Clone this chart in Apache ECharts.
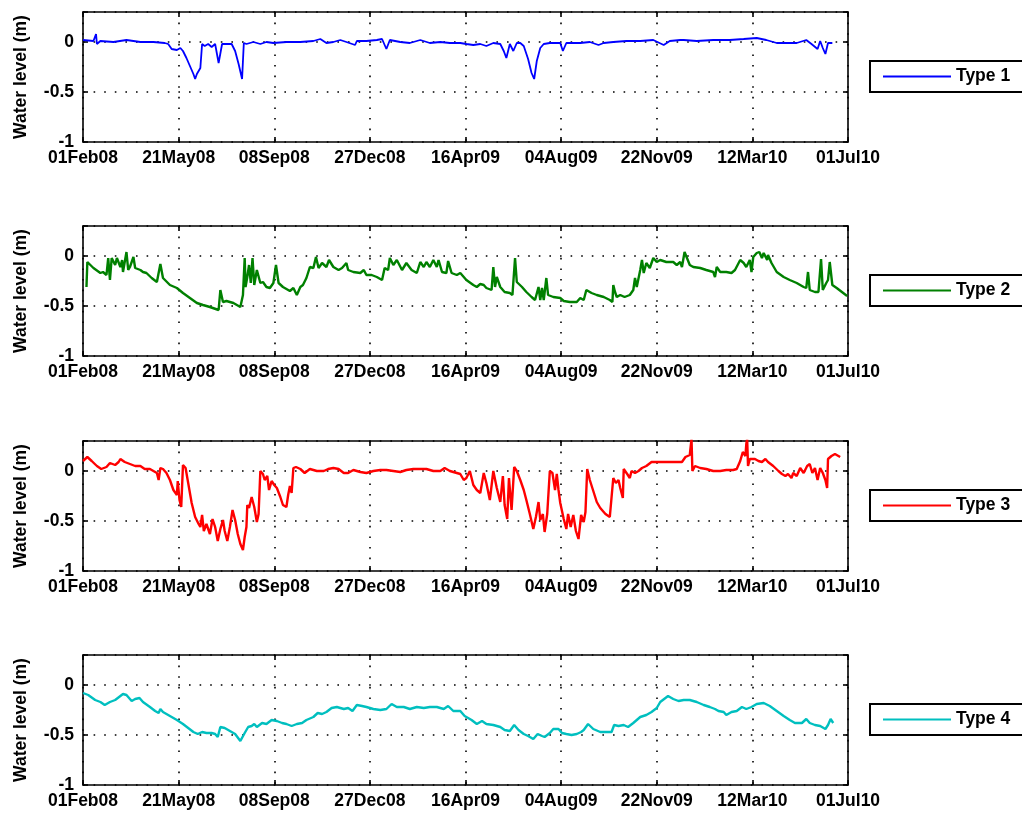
<!DOCTYPE html>
<html><head><meta charset="utf-8">
<script src="https://cdn.jsdelivr.net/npm/echarts@6/dist/echarts.min.js"></script>
<style>html,body{margin:0;padding:0;background:#fff}#c{width:1022px;height:815px}</style>
</head><body><div id="c"></div>
<script>
// x values are days since 01Feb08
const tickLabels = ['01Feb08','21May08','08Sep08','27Dec08','16Apr09','04Aug09','22Nov09','12Mar10','01Jul10'];
const seriesNames = ['Type 1','Type 2','Type 3','Type 4'];
const yTickValues = [-1, -0.5, 0];

const type1Days = [0,12,15,16,20,35,50,66,81,94,98,102,108,112,115,119,123,127,129,131,133,135,137,140,144,148,152,156,160,165,171,175,179,183,185,188,196,204,211,219,234,250,265,273,280,288,296,303,313,315,326,338,
 344,349,353,365,376,388,399,411,422,434,441,449,457,464,472,480,484,487,491,495,499,503,507,512,516,519,522,526,530,537,549,552,556,572,583,593,599,610,625,641,656,668,675,687,
 691,706,725,744,760,775,786,798,809,821,832,838,845,848,851,854,857,859,862];
const type1Level = [0.02,0.01,0.08,-0.02,0.01,0.00,0.02,0.00,0.00,-0.01,-0.02,-0.07,-0.08,-0.06,-0.09,-0.16,-0.24,-0.32,-0.37,-0.32,-0.31,-0.26,-0.02,-0.04,-0.02,-0.05,-0.02,-0.21,-0.02,-0.02,-0.02,-0.09,-0.22,-0.37,-0.01,-0.02,0.00,-0.02,0.00,-0.01,0.00,0.00,0.01,0.03,-0.01,0.00,0.02,0.00,-0.03,0.01,0.01,0.02,
 0.03,-0.07,0.02,0.00,-0.01,0.02,-0.01,0.00,-0.01,-0.01,-0.02,-0.03,-0.02,-0.04,-0.01,-0.02,-0.09,-0.16,-0.02,-0.09,-0.01,-0.01,-0.04,-0.17,-0.31,-0.37,-0.19,-0.06,-0.02,-0.01,-0.01,-0.09,-0.01,-0.01,0.00,-0.03,-0.01,0.00,0.01,0.01,0.02,-0.03,0.01,0.02,
 0.02,0.01,0.02,0.02,0.03,0.04,0.02,-0.01,-0.01,-0.01,0.02,-0.02,-0.07,0.01,-0.06,-0.12,-0.01,0.01,-0.01];

const type2Days = [4,5,12,20,23,27,29,31,33,37, 39,43,45,46,50,52,54,58,60,66, 69,73,79,85,87,89,92,100,108,115, 123,131,138,146,156,158,161,165,173,181, 183,184,186,187,189,191,193,195,197,200, 204,207,211,215,219,222,225,230,238,242, 246,250,253,257,261,265,268,271,275,280, 283,288,294,298,303,305,311,319,323,326, 332,338,344,347,351,353,357,361,367,372, 378,384,388,392,395,399,403,407,409,413, 418,420,424,430,
 434,441,449,453,457,461,464,470,472,474, 476,480,485,491,494,497,499,505,510,516, 520,522,524,526,528,530,533,535,541,549, 553,560,568,572,576,579,585,591,599,606, 609,610,612,614,618,623,629,633,635,637, 641,643,645,648,652,656,660,664,671,679, 683,687,689,692,698,702,710,717,725,727, 729,733,740,746,750,752,756,760,763,767, 769,771,775,778,781,783,787,788,792,798, 806,813,821,829,832,834,836,842,846,849, 851,855,857,859,862,867,873,879];
const type2Level = [-0.31,-0.06,-0.12,-0.17,-0.16,-0.19,-0.02,-0.24,-0.02,-0.09, -0.02,-0.11,-0.04,-0.16,0.04,-0.14,-0.11,-0.01,-0.12,-0.14, -0.16,-0.17,-0.22,-0.26,-0.27,-0.08,-0.22,-0.29,-0.32,-0.37, -0.42,-0.47,-0.49,-0.51,-0.54,-0.34,-0.46,-0.45,-0.47,-0.51, -0.53,-0.39,-0.02,-0.31,-0.21,-0.09,-0.27,-0.02,-0.29,-0.14, -0.27,-0.26,-0.31,-0.32,-0.27,-0.09,-0.27,-0.31,-0.35,-0.32, -0.39,-0.31,-0.29,-0.22,-0.11,-0.12,-0.01,-0.12,-0.07,-0.11, -0.04,-0.11,-0.14,-0.12,-0.07,-0.14,-0.16,-0.17,-0.14,-0.19, -0.19,-0.21,-0.24,-0.12,-0.14,-0.02,-0.09,-0.04,-0.14,-0.07, -0.14,-0.17,-0.06,-0.11,-0.06,-0.11,-0.04,-0.11,-0.04,-0.16, -0.17,-0.05,-0.17,-0.19,
 -0.17,-0.24,-0.29,-0.31,-0.28,-0.29,-0.32,-0.34,-0.11,-0.31, -0.21,-0.31,-0.36,-0.37,-0.39,-0.02,-0.26,-0.31,-0.36,-0.41, -0.44,-0.46,-0.31,-0.44,-0.32,-0.44,-0.22,-0.39,-0.41,-0.42, -0.45,-0.46,-0.46,-0.42,-0.44,-0.34,-0.37,-0.39,-0.41,-0.44, -0.46,-0.29,-0.36,-0.41,-0.39,-0.41,-0.39,-0.34,-0.22,-0.31, -0.14,-0.04,-0.17,-0.07,-0.12,-0.02,-0.06,-0.04,-0.06,-0.06, -0.09,-0.06,-0.11,0.04,-0.09,-0.11,-0.12,-0.14,-0.16,-0.21, -0.11,-0.16,-0.16,-0.17,-0.14,-0.16,-0.04,-0.07,-0.11,-0.04, -0.16,-0.01,0.03,0.04,-0.02,0.03,-0.04,0.01,-0.07,-0.16, -0.21,-0.24,-0.27,-0.31,-0.32,-0.16,-0.34,-0.36,-0.36,-0.03, -0.34,-0.27,-0.24,-0.06,-0.29,-0.32,-0.36,-0.40];

const type3Days = [0,5,10,16,21,27,31,37,41,43, 48,54,60,66,71,77,81,85,87,89, 92,96,100,104,108,109,111,113,115,118, 121,125,129,133,135,137,139,142,146,149, 152,155,158,161,163,166,169,172,175,178, 181,184,186,188,189,191,194,197,200,202, 204,207,209,212,214,217,220,223,227,230, 234,236,238,240,242,245,250,255,261,269, 277,282,288,294,300,305,311,319,326,334, 342,349,357,365,372,380,388,395,403,411, 416,422,430,
 434,438,441,445,449,453,457,461,464,468, 472,476,480,483,485,488,490,493,496,499, 503,507,510,514,518,521,524,526,529,531, 534,537,540,543,545,547,549,553,556,558, 561,564,567,570,573,576,578,580,583,587, 591,595,601,606,608,610,613,616,618,621, 622,626,629,631,635,639,643,648,654,660, 668,675,683,689,693,698,700,701,704,710, 717,725,733,740,748,752,756,759,762,763, 764,765,767,773,777,781,785,788,794,800, 804,808,811,815,817,821,825,829,833,836, 839,842,845,848,851,854,856,857,861,865, 869,871];
const type3Level = [0.10,0.14,0.10,0.05,0.02,0.04,0.08,0.06,0.09,0.12, 0.09,0.07,0.05,0.05,0.02,0.02,0.00,-0.02,-0.09,0.03, 0.02,-0.02,-0.09,-0.19,-0.24,-0.10,-0.29,-0.36,0.06,0.03, -0.12,-0.32,-0.46,-0.53,-0.56,-0.44,-0.60,-0.53,-0.63,-0.48, -0.56,-0.70,-0.58,-0.49,-0.60,-0.70,-0.56,-0.39,-0.49,-0.63, -0.73,-0.79,-0.66,-0.56,-0.34,-0.37,-0.26,-0.36,-0.51,-0.43, 0.00,-0.03,-0.09,-0.05,-0.19,-0.10,-0.14,-0.17,-0.26,-0.34, -0.36,-0.24,-0.15,-0.22,0.03,0.04,0.02,-0.02,0.02,0.00, 0.00,0.02,0.03,0.02,-0.02,-0.02,0.01,-0.01,-0.02,0.00, 0.01,0.01,0.00,-0.01,0.01,0.02,0.02,0.02,0.00,0.00, 0.03,0.00,-0.02,
 -0.03,-0.09,-0.07,0.00,-0.14,-0.19,-0.22,-0.02,-0.12,-0.29, 0.00,-0.17,-0.31,-0.05,-0.34,-0.48,-0.07,-0.39,0.04,0.00, -0.09,-0.19,-0.29,-0.43,-0.58,-0.46,-0.31,-0.49,-0.43,-0.61, -0.43,0.00,-0.02,-0.19,-0.03,-0.19,-0.32,-0.48,-0.58,-0.43, -0.56,-0.44,-0.60,-0.68,-0.44,-0.51,-0.41,0.02,-0.09,-0.20, -0.31,-0.37,-0.43,-0.46,-0.48,-0.07,-0.12,-0.09,-0.17,-0.27, 0.02,-0.03,-0.07,0.00,-0.02,0.00,0.03,0.05,0.09,0.09, 0.09,0.09,0.09,0.09,0.14,0.16,0.32,0.00,0.05,0.03, 0.02,0.00,0.00,0.01,0.01,0.02,0.10,0.19,0.15,0.27, 0.32,0.05,0.12,0.12,0.10,0.09,0.12,0.09,0.05,0.00, -0.03,-0.05,-0.03,-0.07,-0.02,-0.05,0.03,-0.02,0.05,0.07, -0.02,0.03,-0.09,0.03,-0.02,-0.09,-0.17,0.12,0.15,0.17, 0.15,0.14];

const type4Days = [0,6,14,20,25,31,37,43,46,50, 56,60,65,69,77,83,87,89,92,100, 108,115,121,127,132,137,142,148,152,155, 158,163,169,175,181,186,190,194,197,200, 206,211,217,223,229,234,240,246,252,257, 265,270,275,280,286,292,300,305,310,315, 321,326,334,342,349,355,361,369,376,384, 392,399,407,415,420,426,
 434,439,447,453,459,464,472,480,485,491, 496,501,507,512,518,523,528,531,537,541, 547,551,556,562,568,573,576,581,587,595, 602,608,611,616,622,627,633,641,648,654, 660,664,670,673,679,685,691,698,706,714, 721,727,731,737,740,746,752,758,763,769, 775,783,790,798,806,813,819,827,832,836, 842,848,850,854,857,860,863];
const type4Level = [-0.08,-0.10,-0.15,-0.17,-0.20,-0.17,-0.15,-0.11,-0.09,-0.10, -0.16,-0.14,-0.13,-0.17,-0.22,-0.26,-0.28,-0.24,-0.27,-0.31, -0.35,-0.39,-0.43,-0.47,-0.49,-0.47,-0.48,-0.48,-0.49,-0.52, -0.42,-0.43,-0.46,-0.49,-0.56,-0.48,-0.42,-0.41,-0.39,-0.42, -0.38,-0.39,-0.35,-0.36,-0.38,-0.39,-0.41,-0.39,-0.38,-0.35, -0.32,-0.28,-0.29,-0.27,-0.23,-0.22,-0.24,-0.23,-0.26,-0.20, -0.21,-0.22,-0.24,-0.25,-0.24,-0.19,-0.22,-0.22,-0.24,-0.22, -0.23,-0.22,-0.22,-0.24,-0.21,-0.26,
 -0.26,-0.31,-0.35,-0.39,-0.36,-0.39,-0.40,-0.42,-0.45,-0.46, -0.40,-0.45,-0.49,-0.51,-0.54,-0.49,-0.51,-0.52,-0.48,-0.44, -0.44,-0.48,-0.49,-0.50,-0.49,-0.47,-0.45,-0.39,-0.44,-0.47, -0.47,-0.47,-0.40,-0.41,-0.40,-0.42,-0.38,-0.32,-0.30,-0.27, -0.23,-0.17,-0.13,-0.11,-0.14,-0.16,-0.15,-0.15,-0.17,-0.20, -0.22,-0.24,-0.26,-0.27,-0.30,-0.27,-0.26,-0.22,-0.24,-0.22, -0.19,-0.18,-0.21,-0.26,-0.31,-0.35,-0.38,-0.38,-0.34,-0.38, -0.40,-0.41,-0.39,-0.44,-0.40,-0.34,-0.38];

const allDays = [type1Days, type2Days, type3Days, type4Days];
const allLevels = [type1Level, type2Level, type3Level, type4Level];

const FONT = '"Liberation Sans", Arial, Helvetica, sans-serif';
const FS = 17.5;
const colors = ['#0000ff', '#008000', '#ff0000', '#00bfbf'];
const widths = [1.8, 2.4, 2.4, 2.4];
const tops = [12, 226, 441, 655];
const H = 130;
const DAY_MAX = 880, DAY_STEP = 110;

const axisLine = {show: true, onZero: false, lineStyle: {color: '#000', width: 1.6}};
const axisTick = {show: true, inside: true, length: 5, lineStyle: {color: '#000', width: 1.6}};
const dotted = {show: true, lineStyle: {color: '#000', width: 1.6, type: [1.6, 9]}};
const labelStyle = {color: '#000', fontFamily: FONT, fontSize: FS, fontWeight: 'bold'};

const grid = [], xAxis = [], yAxis = [], series = [], legend = [];
for (let i = 0; i < 4; i++) {
  grid.push({left: 83, width: 765, top: tops[i], height: H, containLabel: false, outerBoundsMode: 'none'});
  xAxis.push({type: 'value', gridIndex: i, position: 'bottom', min: 0, max: DAY_MAX, interval: DAY_STEP,
    axisLine, axisTick,
    axisLabel: Object.assign({show: true, margin: 7, formatter: v => tickLabels[Math.round(v / DAY_STEP)] || ''}, labelStyle),
    splitLine: dotted});
  xAxis.push({type: 'value', gridIndex: i, position: 'top', min: 0, max: DAY_MAX, interval: DAY_STEP,
    axisLine, axisTick, axisLabel: {show: false}, splitLine: {show: false}});
  yAxis.push({type: 'value', gridIndex: i, position: 'left', min: -1, max: 0.3, interval: 0.5,
    axisLine, axisTick,
    axisLabel: Object.assign({show: true, margin: 9,
      formatter: v => yTickValues.some(t => Math.abs(t - v) < 1e-6) ? String(v) : ''}, labelStyle),
    splitLine: dotted,
    name: 'Water level (m)', nameLocation: 'middle', nameGap: 53, nameRotate: 90,
    nameTextStyle: Object.assign({}, labelStyle)});
  yAxis.push({type: 'value', gridIndex: i, position: 'right', min: -1, max: 0.3, interval: 0.5,
    axisLine, axisTick, axisLabel: {show: false}, splitLine: {show: false}});
  series.push({type: 'line', name: seriesNames[i], xAxisIndex: 2 * i, yAxisIndex: 2 * i,
    data: allDays[i].map((d, k) => [d, allLevels[i][k]]),
    symbol: 'none', showSymbol: false, clip: true,
    lineStyle: {color: colors[i], width: widths[i]}, itemStyle: {color: colors[i]},
    z: 3, animation: false});
  legend.push({data: [seriesNames[i]], left: 870, top: tops[i] + 49, orient: 'horizontal',
    padding: [5, 16, 5, 13], borderColor: '#000', borderWidth: 2, backgroundColor: '#fff', borderRadius: 0,
    icon: 'rect', itemWidth: 68, itemHeight: 2, itemGap: 0, selectedMode: false,
    textStyle: Object.assign({lineHeight: 21}, labelStyle)});
}

const chart = echarts.init(document.getElementById('c'), null, {renderer: 'canvas'});
chart.setOption({backgroundColor: '#fff', animation: false, grid, xAxis, yAxis, series, legend});
</script>
</body></html>
